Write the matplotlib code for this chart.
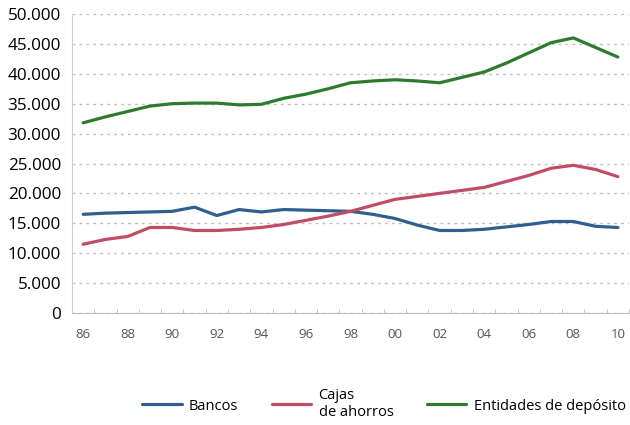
import matplotlib.pyplot as plt
import numpy as np
from matplotlib.ticker import FuncFormatter, MultipleLocator

plt.rcParams['font.family'] = ['Open Sans', 'DejaVu Sans']

# datos (miles)
years = list(range(1986, 2011))
bancos = [16.5, 16.7, 16.8, 16.9, 17.0, 17.7, 16.3, 17.3, 16.9, 17.3, 17.2, 17.1,
          17.0, 16.5, 15.8, 14.7, 13.8, 13.8, 14.0, 14.4, 14.8, 15.3, 15.3, 14.5, 14.3]
cajas = [11.5, 12.3, 12.8, 14.3, 14.3, 13.8, 13.8, 14.0, 14.3, 14.8, 15.5, 16.2,
         17.0, 18.0, 19.0, 19.5, 20.0, 20.5, 21.0, 22.0, 23.0, 24.2, 24.7, 24.0, 22.8]
entidades = [31.8, 32.8, 33.7, 34.6, 35.0, 35.1, 35.1, 34.8, 34.9, 35.9, 36.6, 37.5,
             38.5, 38.8, 39.0, 38.8, 38.5, 39.4, 40.3, 41.8, 43.5, 45.2, 46.0, 44.4, 42.8]
series = [("Bancos", bancos, "#2f5f8e"),
          ("Cajas\nde ahorros", cajas, "#c04d66"),
          ("Entidades de depósito", entidades, "#2e7a2e")]

fig = plt.figure(figsize=(6.3, 4.25), dpi=100)
ax = fig.add_axes([72 / 630, 1 - 313 / 425, 557 / 630, 299 / 425])

x = np.array(years)
for name, vals, col in series:
    ax.plot(x, np.array(vals) * 1000, color=col, lw=2.3, label=name,
            solid_capstyle='round', solid_joinstyle='round')

ax.set_xlim(1985.5, 2010.5)
ax.set_ylim(0, 50000)
ax.yaxis.set_major_locator(MultipleLocator(5000))
ax.yaxis.set_major_formatter(FuncFormatter(
    lambda v, p: "0" if v == 0 else f"{int(v):,}".replace(",", ".")))
ax.set_xticks(years[::2])
ax.set_xticklabels([f"{y % 100:02d}" for y in years[::2]])
ax.set_xticks(np.arange(1985.5, 2011, 1), minor=True)

ax.grid(axis='y', color='#c0c0c0', linestyle=(0, (2, 3)), lw=1)
ax.set_axisbelow(True)
for s in ['top', 'right']:
    ax.spines[s].set_visible(False)
ax.spines['left'].set_color('#d0d0d0')
ax.spines['bottom'].set_color('#c0c0c0')
ax.tick_params(axis='y', length=0, labelsize=12.3, pad=8, colors='black')
ax.tick_params(axis='x', which='major', length=0, labelsize=9.5, pad=11,
               labelcolor='#555555')
ax.tick_params(axis='x', which='minor', direction='in', length=3, color='#c0c0c0')

leg = fig.legend(loc='center right', bbox_to_anchor=(1.0, 1 - 404 / 425), ncol=3,
                 frameon=False, fontsize=10.5, handlelength=2.7, columnspacing=2.3,
                 handletextpad=0.5, borderpad=0.1, borderaxespad=0.2)

fig.savefig('out.png', dpi=100)
